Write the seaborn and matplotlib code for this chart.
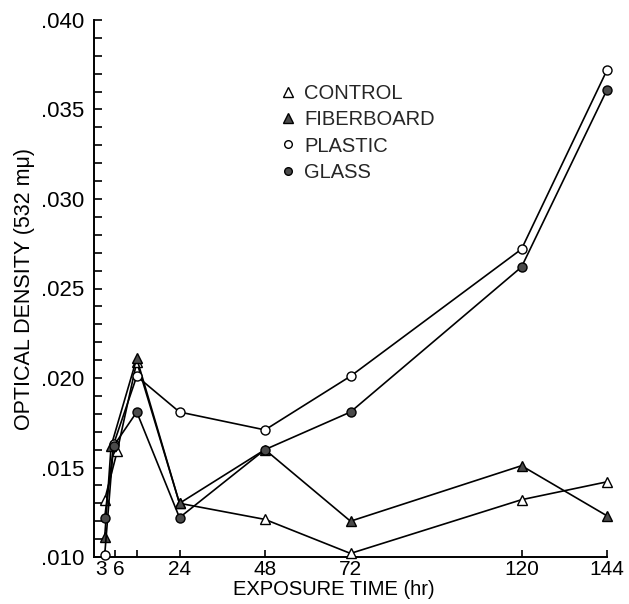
import matplotlib
matplotlib.use("Agg")
import matplotlib.pyplot as plt
import matplotlib.transforms as mtransforms
from matplotlib.lines import Line2D
from matplotlib.ticker import MultipleLocator, FuncFormatter
import seaborn as sns
import pandas as pd

# ---- data ----
series_names = ["CONTROL", "FIBERBOARD", "PLASTIC", "GLASS"]
control_x = [3, 6.5, 12, 24, 48, 72, 120, 144]
control_y = [0.0132, 0.0159, 0.0209, 0.0130, 0.0121, 0.0102, 0.0132, 0.0142]
fiber_x = [3, 4.8, 12, 24, 48, 72, 120, 144]
fiber_y = [0.0111, 0.0162, 0.0211, 0.0130, 0.0160, 0.0120, 0.0151, 0.0123]
plastic_x = [3, 5.5, 12, 24, 48, 72, 120, 144]
plastic_y = [0.0101, 0.0163, 0.0201, 0.0181, 0.0171, 0.0201, 0.0272, 0.0372]
glass_x = [3, 5.5, 12, 24, 48, 72, 120, 144]
glass_y = [0.0122, 0.0162, 0.0181, 0.0122, 0.0160, 0.0181, 0.0262, 0.0361]

x_ticks = [3, 6, 12, 24, 48, 72, 120, 144]
x_tick_labels = ["3", "6", "", "24", "48", "72", "120", "144"]
y_ticks = [0.010, 0.015, 0.020, 0.025, 0.030, 0.035, 0.040]

sns.set_style("ticks")
plt.rcParams["font.family"] = ["Liberation Sans", "DejaVu Sans"]

fig = plt.figure(figsize=(6.29, 6.04), dpi=100)
ax = fig.add_axes([94 / 629, 1 - 557 / 604, (607 - 94) / 629, (557 - 20) / 604])

dark = "#4a4a4a"
styles = {
    "CONTROL": dict(marker="^", markerfacecolor="white", markersize=7.5),
    "FIBERBOARD": dict(marker="^", markerfacecolor=dark, markersize=7.5),
    "PLASTIC": dict(marker="o", markerfacecolor="white", markersize=6.5),
    "GLASS": dict(marker="o", markerfacecolor=dark, markersize=6.5),
}
xs = {"CONTROL": control_x, "FIBERBOARD": fiber_x, "PLASTIC": plastic_x, "GLASS": glass_x}
ys = {"CONTROL": control_y, "FIBERBOARD": fiber_y, "PLASTIC": plastic_y, "GLASS": glass_y}

for name in series_names:
    df = pd.DataFrame({"hr": xs[name], "od": ys[name]})
    sns.lineplot(data=df, x="hr", y="od", ax=ax, color="black", linewidth=1.2,
                 markeredgecolor="black", markeredgewidth=1.0, clip_on=False,
                 zorder=3, **styles[name])

ax.set_xlim(0, 144)
ax.set_ylim(0.010, 0.040)
sns.despine(ax=ax)
for sp in ("left", "bottom"):
    ax.spines[sp].set_linewidth(1.4)
    ax.spines[sp].set_color("black")

ax.set_xticks(x_ticks)
ax.set_xticklabels(x_tick_labels)
ax.set_yticks(y_ticks)
ax.yaxis.set_minor_locator(MultipleLocator(0.001))
ax.yaxis.set_major_formatter(FuncFormatter(lambda v, p: ("%.3f" % v)[1:]))
ax.tick_params(axis="y", which="both", direction="in", length=6, width=1.2,
               labelsize=16, pad=7, colors="black")
ax.tick_params(axis="x", which="both", direction="in", length=5, width=1.2,
               labelsize=15, pad=2.5, colors="black")

# nudge the crowded "3" and "6" labels apart as in the reference
labs = ax.get_xticklabels()
labs[0].set_transform(labs[0].get_transform() +
                      mtransforms.ScaledTranslation(-4 / 100, 0, fig.dpi_scale_trans))
labs[1].set_transform(labs[1].get_transform() +
                      mtransforms.ScaledTranslation(3 / 100, 0, fig.dpi_scale_trans))

ax.set_xlabel("EXPOSURE TIME (hr)", fontsize=14.5, color="black")
ax.set_ylabel("OPTICAL DENSITY (532 mμ)", fontsize=15.5, color="black")
ax.xaxis.set_label_coords((334 - 94) / 513, -0.043)
ax.yaxis.set_label_coords(-0.115, 0.5)

handles = []
for name in series_names:
    st = styles[name]
    handles.append(Line2D([], [], linestyle="none", marker=st["marker"],
                          markerfacecolor=st["markerfacecolor"], markeredgecolor="black",
                          markeredgewidth=1.0, markersize=st["markersize"] - 1.0))
fig.legend(handles, series_names, loc="upper left",
           bbox_to_anchor=(278 / 629, 1 - 84 / 604), bbox_transform=fig.transFigure,
           frameon=False, fontsize=14.5, handlelength=0.95, handletextpad=0.35,
           labelspacing=0.36, borderpad=0, borderaxespad=0)

fig.savefig("out.png", dpi=100, facecolor="white")
